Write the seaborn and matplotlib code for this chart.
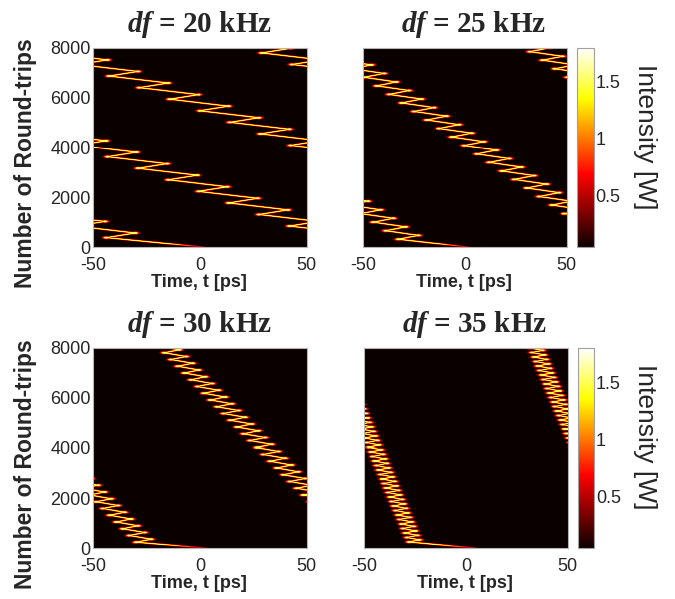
import numpy as np
import pandas as pd
import matplotlib
matplotlib.use("Agg")
import matplotlib.pyplot as plt
import seaborn as sns

sns.set_style("white")
plt.rcParams["font.family"] = ["Liberation Sans", "DejaVu Sans"]
plt.rcParams["mathtext.fontset"] = "custom"
plt.rcParams["mathtext.it"] = "Liberation Serif:italic:bold"
plt.rcParams["mathtext.rm"] = "Liberation Serif:bold"

# ---------------- data ----------------
df_khz = [20, 25, 30, 35]
start_t_ps = [2.0, 2.0, 3.0, 5.0]          # pulse position at round-trip 0
first_turn_t_ps = [-43.9, -32.8, -30.0, -28.0]
first_turn_rt = [385, 320, 240, 250]
zig_period_rt = [463, 342, 270, 180]       # round-trips per zig-zag
zig_drift_ps = [14.2, 6.15, 3.1, 0.94]     # net leftward drift per zig-zag
zig_swing_ps = [13.5, 9.8, 7.0, 5.0]       # rightward swing of each zig-zag
zig_swing_rt = [185, 155, 120, 85]         # round-trips of the rightward swing
ramp_rt = 150
start_power_w = 0.35
line_power_w = 1.55
turn_power_w = 1.85

t_ticks = [-50, 0, 50]
rt_ticks = [0, 2000, 4000, 6000, 8000]
cbar_ticks = [0.5, 1, 1.5]
cbar_ticklabels = ["0.5", "1", "1.5"]
i_min, i_max = 0.05, 1.8
t_lo, t_hi = -50.0, 50.0
rt_max = 8000.0

# ---------------- layout (pixels) ----------------
W, H = 675, 599
fig = plt.figure(figsize=(W / 100, H / 100), dpi=100)
fig.patch.set_facecolor("white")
panels_px = [(93.3, 47.7, 213.4, 199.6), (363.3, 47.7, 203.4, 199.6),
             (93.3, 347.7, 213.4, 200.6), (364.3, 347.7, 203.4, 200.6)]
cbar_px = {1: (577.3, 47.7, 16.7, 199.6), 3: (577.7, 347.7, 16.7, 200.6)}
cbar_label_px = {1: (645, 136.7), 3: (645, 436.7)}


def rect(x, y, w, h):
    return [x / W, 1 - (y + h) / H, w / W, h / H]


NCOL, NROW = 428, 400
span = t_hi - t_lo
tc = t_lo + (np.arange(NCOL) + 0.5) * span / NCOL
nc = (np.arange(NROW) + 0.5) * rt_max / NROW
T, N = np.meshgrid(tc, nc)
row_h = rt_max / NROW
WRAPS = range(-2, 8)


def field(i, sx, sy):
    ts = [start_t_ps[i]]
    ns = [0.0]
    t, n = first_turn_t_ps[i], first_turn_rt[i]
    while n < rt_max + zig_period_rt[i]:
        ts += [t, t + zig_swing_ps[i]]
        ns += [n, n + zig_swing_rt[i]]
        t -= zig_drift_ps[i]
        n += zig_period_rt[i]
    ts = np.array(ts)
    ns = np.array(ns)
    d2 = np.full(T.shape, np.inf)
    blob = np.zeros(T.shape)
    for a in range(len(ts) - 1):
        ta, tb, na, nb = ts[a], ts[a + 1], ns[a], ns[a + 1]
        r0 = max(0, int((min(na, nb) - 120) / row_h))
        r1 = min(NROW, int((max(na, nb) + 120) / row_h) + 1)
        if r0 >= r1:
            continue
        px = T[r0:r1] * sx
        py = N[r0:r1] * sy
        for k in WRAPS:
            sa, sb = ta + span * k, tb + span * k
            if max(sa, sb) < t_lo - 8 or min(sa, sb) > t_hi + 8:
                continue
            ax_, ay, bx, by = sa * sx, na * sy, sb * sx, nb * sy
            dx, dy = bx - ax_, by - ay
            u = np.clip(((px - ax_) * dx + (py - ay) * dy) / (dx * dx + dy * dy), 0, 1)
            dd = (px - ax_ - u * dx) ** 2 + (py - ay - u * dy) ** 2
            d2[r0:r1] = np.minimum(d2[r0:r1], dd)
    for a in range(1, len(ts)):
        tt, nn = ts[a], ns[a]
        r0 = max(0, int((nn - 150) / row_h))
        r1 = min(NROW, int((nn + 150) / row_h) + 1)
        if r0 >= r1:
            continue
        for k in WRAPS:
            st = tt + span * k
            if st < t_lo - 10 or st > t_hi + 10:
                continue
            e = ((T[r0:r1] - st) * sx / 2.4) ** 2 + ((N[r0:r1] - nn) * sy / 0.9) ** 2
            blob[r0:r1] = np.maximum(blob[r0:r1], np.exp(-0.5 * e))
    ramp = np.clip(N / ramp_rt, 0, 1)
    power = start_power_w + (line_power_w - start_power_w) * ramp
    z = np.maximum(power * np.exp(-0.5 * d2 / 0.6 ** 2), turn_power_w * blob * ramp)
    return z


for i, (x, y, w, h) in enumerate(panels_px):
    ax = fig.add_axes(rect(x, y, w, h))
    sx = w / span
    sy = h / rt_max
    z = field(i, sx, sy)
    has_cbar = i in cbar_px
    cax = fig.add_axes(rect(*cbar_px[i])) if has_cbar else None
    sns.heatmap(pd.DataFrame(z), ax=ax, cmap="hot", vmin=i_min, vmax=i_max,
                cbar=has_cbar, cbar_ax=cax, cbar_kws={"ticks": cbar_ticks} if has_cbar else None,
                xticklabels=False, yticklabels=False, rasterized=True)
    ax.set_xlim(0, NCOL)
    ax.set_ylim(0, NROW)
    ax.set_xticks([(t - t_lo) / span * NCOL for t in t_ticks])
    ax.set_xticklabels([str(t) for t in t_ticks])
    ax.tick_params(axis="x", length=0, pad=6.8, labelsize=13)
    if i % 2 == 0:
        ax.set_yticks([r / rt_max * NROW for r in rt_ticks])
        ax.set_yticklabels([str(r) for r in rt_ticks], rotation=0)
        ax.tick_params(axis="y", length=0, pad=2, labelsize=13)
        ax.set_ylabel("Number of Round-trips", fontsize=16.5, fontweight="bold")
        ax.yaxis.set_label_coords(-0.265, 0.422)
    else:
        ax.set_yticks([])
    ax.set_xlabel("Time, t [ps]", fontsize=13, fontweight="bold", va="top")
    ax.xaxis.set_label_coords(0.496, -26.5 / h)
    for s in ax.spines.values():
        s.set_visible(True)
        s.set_color("#b4b4b4")
        s.set_linewidth(0.8)
    tx = 0.5 if i % 2 == 0 else 0.544
    ax.text(tx, 1.077, r"$df$" + f" = {df_khz[i]} kHz", transform=ax.transAxes,
            ha="center", va="baseline", fontsize=21, fontfamily="Liberation Serif",
            fontweight="bold")
    if has_cbar:
        cbar = ax.collections[0].colorbar
        cbar.set_ticks(cbar_ticks)
        cbar.set_ticklabels(cbar_ticklabels)
        cbar.ax.tick_params(length=0, pad=1, labelsize=13)
        cbar.outline.set_edgecolor("#a0a0a0")
        cbar.outline.set_linewidth(0.8)
        lx, ly = cbar_label_px[i]
        fig.text(lx / W, 1 - ly / H, "Intensity [W]", rotation=270, ha="center",
                 va="center", fontsize=19)

fig.savefig("out.png", dpi=100, facecolor="white")
